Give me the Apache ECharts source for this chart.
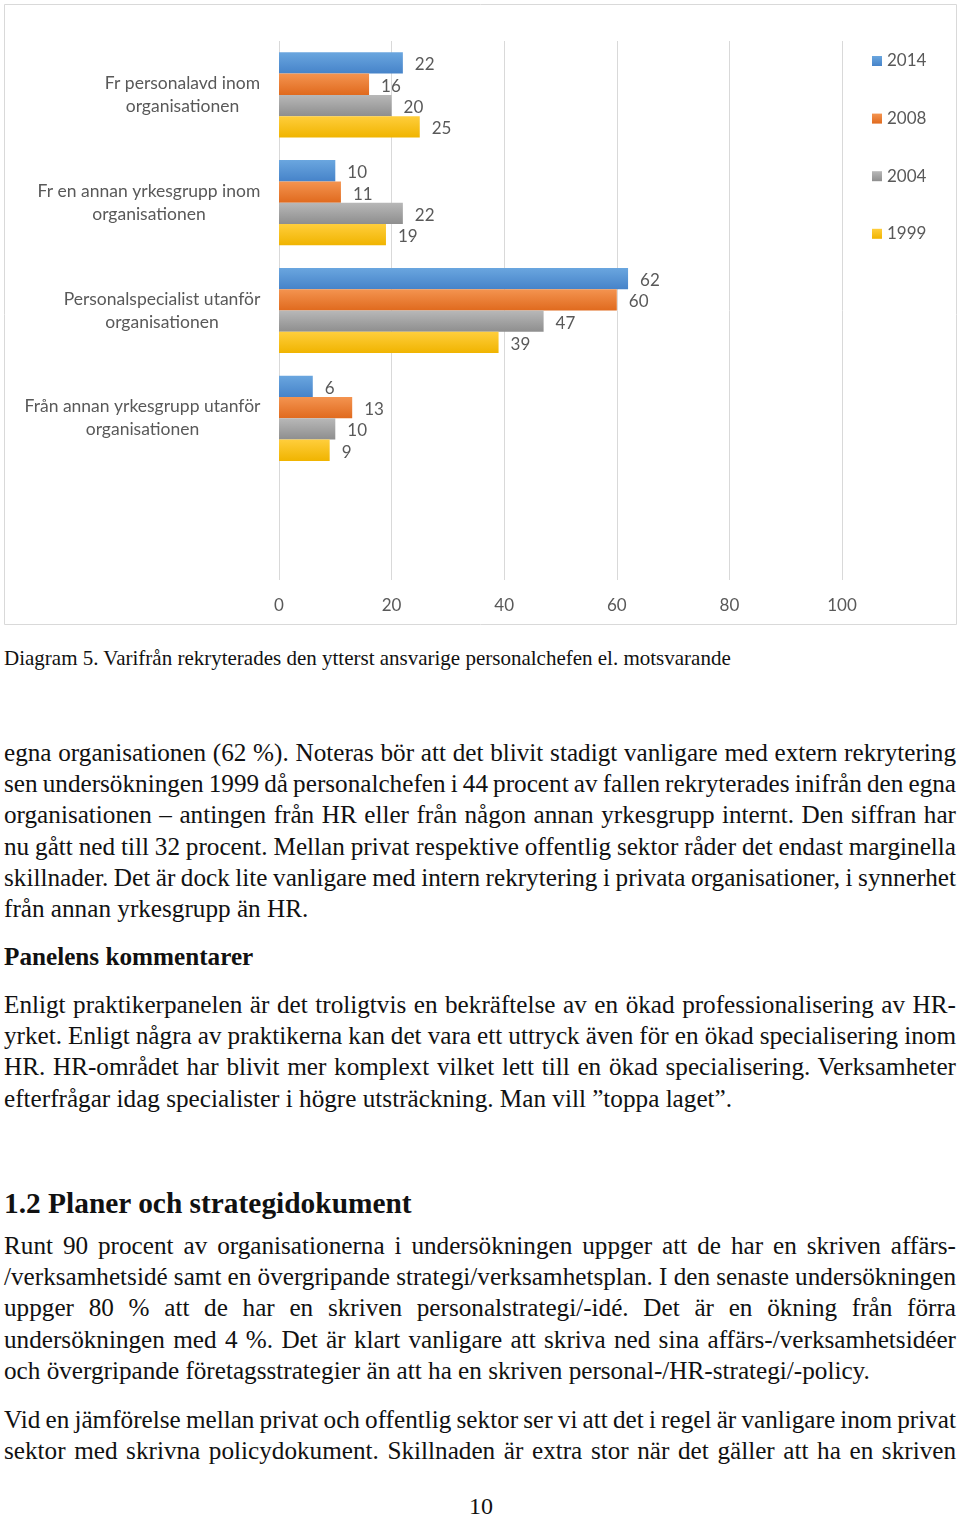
<!DOCTYPE html>
<html>
<head>
<meta charset="utf-8">
<script src="https://cdn.jsdelivr.net/npm/echarts@6/dist/echarts.min.js"></script>
<style>
  html, body { margin: 0; padding: 0; background: #fff; }
  #page { position: relative; width: 960px; height: 1517px; overflow: hidden; background: #fff; }
  #chart { position: absolute; left: 0; top: 0; width: 960px; height: 632px; }
  .ln { position: absolute; left: 4px; width: 952px; font-family: "Liberation Serif", "Times New Roman", serif; color: #111; white-space: nowrap; }
  .j { text-align: justify; text-align-last: justify; }
  .b { font-weight: bold; }
</style>
</head>
<body>
<div id="page">
  <div id="chart"></div>
  <div id="text"></div>
</div>
<script>
// ---- Chart data ----
const categories = [
  "Fr personalavd inom\norganisationen",
  "Fr en annan yrkesgrupp inom\norganisationen",
  "Personalspecialist utanför\norganisationen",
  "Från annan yrkesgrupp utanför\norganisationen",
  ""
];
const seriesNames = ["2014", "2008", "2004", "1999"];
const values2014 = [22, 10, 62, 6, null];
const values2008 = [16, 11, 60, 13, null];
const values2004 = [20, 22, 47, 10, null];
const values1999 = [25, 19, 39, 9, null];
const xTicks = [0, 20, 40, 60, 80, 100];

// ---- Page text ----
const captionText = "Diagram 5. Varifrån rekryterades den ytterst ansvarige personalchefen el. motsvarande";
const para1 = [
  "egna organisationen (62 %). Noteras bör att det blivit stadigt vanligare med extern rekrytering",
  "sen undersökningen 1999 då personalchefen i 44 procent av fallen rekryterades inifrån den egna",
  "organisationen – antingen från HR eller från någon annan yrkesgrupp internt. Den siffran har",
  "nu gått ned till 32 procent. Mellan privat respektive offentlig sektor råder det endast marginella",
  "skillnader. Det är dock lite vanligare med intern rekrytering i privata organisationer, i synnerhet",
  "från annan yrkesgrupp än HR."
];
const heading1 = "Panelens kommentarer";
const para2 = [
  "Enligt praktikerpanelen är det troligtvis en bekräftelse av en ökad professionalisering av HR-",
  "yrket. Enligt några av praktikerna kan det vara ett uttryck även för en ökad specialisering inom",
  "HR. HR-området har blivit mer komplext vilket lett till en ökad specialisering. Verksamheter",
  "efterfrågar idag specialister i högre utsträckning. Man vill ”toppa laget”."
];
const heading2 = "1.2 Planer och strategidokument";
const para3 = [
  "Runt 90 procent av organisationerna i undersökningen uppger att de har en skriven affärs-",
  "/verksamhetsidé samt en övergripande strategi/verksamhetsplan. I den senaste undersökningen",
  "uppger 80 % att de har en skriven personalstrategi/-idé. Det är en ökning från förra",
  "undersökningen med 4 %. Det är klart vanligare att skriva ned sina affärs-/verksamhetsidéer",
  "och övergripande företagsstrategier än att ha en skriven personal-/HR-strategi/-policy."
];
const para4 = [
  "Vid en jämförelse mellan privat och offentlig sektor ser vi att det i regel är vanligare inom privat",
  "sektor med skrivna policydokument. Skillnaden är extra stor när det gäller att ha en skriven"
];
const pageNumber = "10";

// ---- Build text ----
(function () {
  const host = document.getElementById('text');
  const LINE_W = 952;
  function add(txt, y, opts) {
    const d = document.createElement('div');
    d.className = 'ln' + (opts.cls ? ' ' + opts.cls : '');
    const fs = opts.fs || 25.2;
    d.style.fontSize = fs + 'px';
    d.style.lineHeight = '32px';
    d.style.height = '32px';
    d.style.top = (y - 16) + 'px';
    if (opts.center) { d.style.textAlign = 'center'; d.style.left = '0px'; d.style.width = '962px'; }
    const s = document.createElement('span');
    s.textContent = txt;
    d.appendChild(s);
    host.appendChild(d);
    // compress word spacing if the natural line is wider than the column
    const w = s.getBoundingClientRect().width;
    const spaces = (txt.match(/ /g) || []).length;
    if (!opts.center && w > LINE_W && spaces > 0) {
      d.style.wordSpacing = (-(w - LINE_W + 1) / spaces) + 'px';
    }
  }
  function para(lines, y0, step, justifyLast) {
    lines.forEach((t, i) => {
      const last = i === lines.length - 1;
      add(t, y0 + i * step, { cls: (!last || justifyLast) ? 'j' : '' });
    });
  }
  add(captionText, 658, { fs: 21 });
  para(para1, 753, 31.2, false);
  add(heading1, 957, { cls: 'b', fs: 25.2 });
  para(para2, 1005, 31.2, false);
  add(heading2, 1203, { cls: 'b', fs: 29.4 });
  para(para3, 1246, 31.2, false);
  para(para4, 1420, 31.2, true);
  add(pageNumber, 1506, { center: true, fs: 24 });
})();

// ---- Chart ----
const grad = (a, b) => new echarts.graphic.LinearGradient(0, 0, 0, 1, [
  { offset: 0, color: a }, { offset: 1, color: b }
]);
const colors = [
  grad('#6aa6df', '#4683c9'),
  grad('#f49450', '#e06a1e'),
  grad('#b8b8b8', '#8e8e8e'),
  grad('#ffce3c', '#f0b400')
];
const allValues = [values2014, values2008, values2004, values1999];
const txtColor = '#595959';
const fontFam = 'Lato, "Open Sans", sans-serif';
const catFontSize = 17.5;

// per-label block widths so that each two-line label is centred as a block
const measureCtx = document.createElement('canvas').getContext('2d');
measureCtx.font = catFontSize + 'px Lato';
const rich = {};
categories.forEach((c, i) => {
  const w = Math.max(0, ...c.split('\n').map(s => measureCtx.measureText(s).width));
  rich['c' + i] = { width: Math.ceil(w) + 1, align: 'center', color: txtColor, fontSize: catFontSize, lineHeight: 23, fontFamily: fontFam };
});

const chart = echarts.init(document.getElementById('chart'), null, { renderer: 'canvas' });
chart.setOption({
  animation: false,
  textStyle: { fontFamily: fontFam },
  graphic: [{
    type: 'rect', shape: { x: 4.5, y: 4.5, width: 952, height: 620 },
    style: { fill: 'none', stroke: '#d9d9d9', lineWidth: 1 }, silent: true, z: -10
  }],
  legend: {
    orient: 'vertical', left: 867, top: 47,
    itemWidth: 10, itemHeight: 10, itemGap: 39.6,
    icon: 'rect',
    data: seriesNames,
    textStyle: { color: txtColor, fontSize: 17, fontFamily: fontFam, lineHeight: 18 }
  },
  grid: { left: 279, right: 118, top: 41, bottom: 52, containLabel: false },
  xAxis: {
    type: 'value', min: xTicks[0], max: xTicks[xTicks.length - 1], interval: 20,
    axisLine: { show: false }, axisTick: { show: false },
    splitLine: { show: true, lineStyle: { color: '#d9d9d9', width: 1 } },
    axisLabel: { color: txtColor, fontSize: 17, margin: 17, fontFamily: fontFam }
  },
  yAxis: {
    type: 'category', inverse: true, data: categories,
    axisLine: { show: false }, axisTick: { show: false },
    axisLabel: {
      color: txtColor, fontSize: catFontSize, lineHeight: 23, margin: 18, align: 'right', fontFamily: fontFam,
      formatter: (v, idx) => v ? v.split('\n').map(s => '{c' + idx + '|' + s + '}').join('\n') : '',
      rich: rich
    }
  },
  series: seriesNames.map((name, i) => ({
    name, type: 'bar', data: allValues[i],
    barGap: '0%', barCategoryGap: '21%',
    itemStyle: { color: colors[i] },
    label: { show: true, position: 'right', distance: 12, offset: [0, 2], color: txtColor, fontSize: 17, fontFamily: fontFam }
  }))
});
</script>
</body>
</html>
